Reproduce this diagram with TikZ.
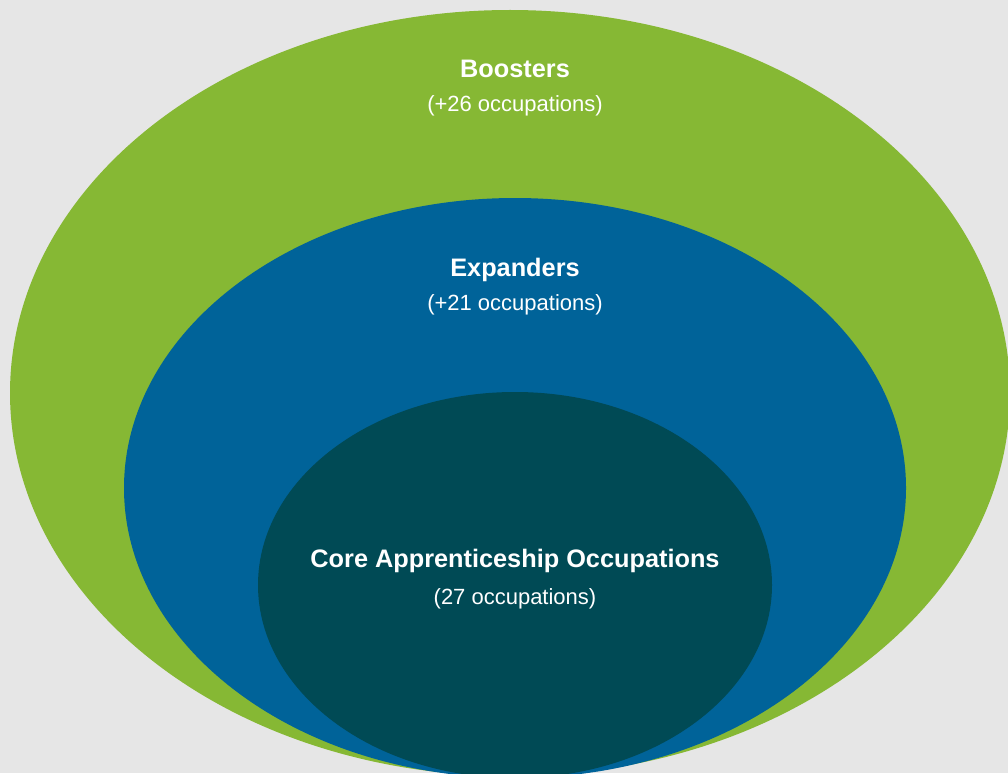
\documentclass[tikz,border=0pt]{standalone}
\usepackage{fontspec}
\setmainfont{Liberation Sans}
\usetikzlibrary{shapes.geometric,positioning}
\definecolor{ringgreen}{RGB}{134,184,52}
\definecolor{ringblue}{RGB}{0,99,153}
\definecolor{ringteal}{RGB}{0,74,85}
\definecolor{bggrey}{RGB}{230,230,230}
\tikzset{
    ring/.style={ellipse, inner sep=0pt, outer sep=0pt},
    title/.style={anchor=base, text=white, font=\fontsize{25.3}{30}\selectfont\bfseries},
    subtitle/.style={anchor=base, text=white, font=\fontsize{22}{26}\selectfont}
}
\begin{document}
\begin{tikzpicture}[x=1pt, y=-1pt]
    % Background
    \fill [bggrey] (0,0) rectangle (1008,773);
    \useasboundingbox (0,0) rectangle (1008,773);
    \clip (0,0) rectangle (1008,773);

    % Outer ring
    \node [ring, fill=ringgreen, minimum width=1000pt, minimum height=766pt] (boosters) at (510,393) {};
    \node [title] (boostersname) at (515,78) {Boosters};
    \node [subtitle] (boosterscount) at (515,112) {(+26 occupations)};

    % Middle ring
    \node [ring, fill=ringblue, minimum width=782pt, minimum height=580pt] (expanders) at (515,488) {};
    \node [title] (expandersname) at (515,276) {Expanders};
    \node [subtitle] (expanderscount) at (515,310) {(+21 occupations)};

    % Core
    \node [ring, fill=ringteal, minimum width=514pt, minimum height=386pt] (core) at (515,585) {};
    \node [title] (corename) at (515,567) {Core Apprenticeship Occupations};
    \node [subtitle] (corecount) at (515,604) {(27 occupations)};
\end{tikzpicture}
\end{document}
